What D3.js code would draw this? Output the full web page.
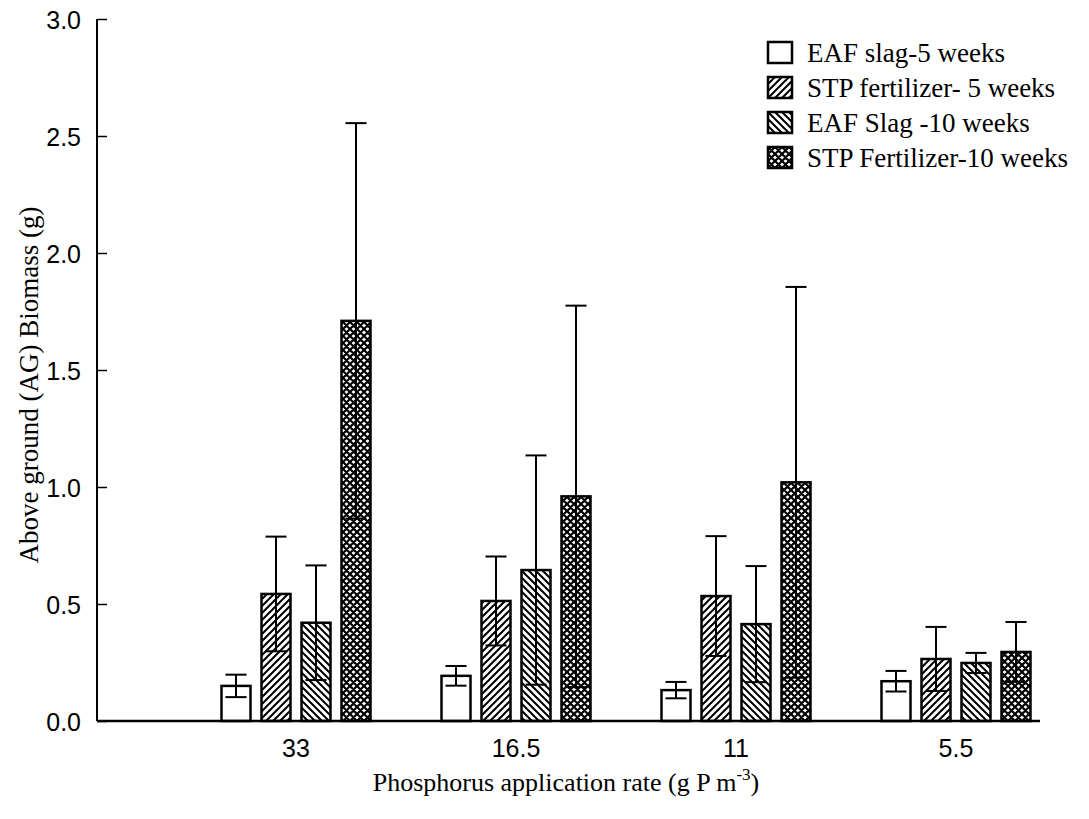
<!DOCTYPE html>
<html>
<head>
<meta charset="utf-8">
<script src="https://cdn.jsdelivr.net/npm/d3@7"></script>
<style>
  body { margin: 0; background: #fff; }
  svg { display: block; }
</style>
</head>
<body>
<div id="chart"></div>
<script>
/* Data
-----------------------------------------------------------------------------*/
const rates = ['33', '16.5', '11', '5.5'];
const series = [
  'EAF slag-5 weeks',
  'STP fertilizer- 5 weeks',
  'EAF Slag -10 weeks',
  'STP Fertilizer-10 weeks',
];
const eafSlag5 = [0.15, 0.193, 0.132, 0.17];
const stp5 = [0.543, 0.513, 0.534, 0.265];
const eafSlag10 = [0.42, 0.645, 0.414, 0.248];
const stp10 = [1.71, 0.96, 1.02, 0.295];
const eafSlag5Err = [0.048, 0.042, 0.035, 0.044];
const stp5Err = [0.245, 0.19, 0.256, 0.137];
const eafSlag10Err = [0.245, 0.49, 0.248, 0.043];
const stp10Err = [0.845, 0.815, 0.835, 0.128];
const yTicks = [0, 0.5, 1.0, 1.5, 2.0, 2.5, 3.0];

const means = [eafSlag5, stp5, eafSlag10, stp10];
const errs = [eafSlag5Err, stp5Err, eafSlag10Err, stp10Err];
const fills = ['#fff', 'url(#fwd)', 'url(#back)', 'url(#cross)'];

const chartWidth = 1089;
const chartHeight = 819;
const plotLeft = 97;
const plotTop = 19;
const plotBottom = 721;
const serif = "'Liberation Serif', 'Times New Roman', serif";
const sans = "'Liberation Sans', Arial, sans-serif";

const svg = d3
  .select('#chart')
  .append('svg')
  .attr('width', chartWidth)
  .attr('height', chartHeight)
  .attr('xmlns', 'http://www.w3.org/2000/svg');

/* Patterns
-----------------------------------------------------------------------------*/
const defs = svg.append('defs');

defs
  .append('pattern')
  .attr('id', 'fwd')
  .attr('patternUnits', 'userSpaceOnUse')
  .attr('width', 7)
  .attr('height', 7)
  .append('path')
  .attr('d', 'M-1,8 L8,-1 M-2,2 L2,-2 M5,9 L9,5')
  .attr('stroke', '#000')
  .attr('stroke-width', 2);

defs
  .append('pattern')
  .attr('id', 'back')
  .attr('patternUnits', 'userSpaceOnUse')
  .attr('width', 7)
  .attr('height', 7)
  .append('path')
  .attr('d', 'M-1,-1 L8,8 M-2,5 L2,9 M5,-2 L9,2')
  .attr('stroke', '#000')
  .attr('stroke-width', 2);

const cross = defs
  .append('pattern')
  .attr('id', 'cross')
  .attr('patternUnits', 'userSpaceOnUse')
  .attr('width', 7)
  .attr('height', 7);
cross.append('rect').attr('width', 7).attr('height', 7).attr('fill', '#fff');
cross
  .append('path')
  .attr(
    'd',
    'M-1,-1 L8,8 M-2,5 L2,9 M5,-2 L9,2 M-1,8 L8,-1 M-2,2 L2,-2 M5,9 L9,5'
  )
  .attr('stroke', '#000')
  .attr('stroke-width', 2.2);

/* Scales
-----------------------------------------------------------------------------*/
const x0 = d3.scaleBand().domain(rates).range([186, 1066]);
const x1 = d3
  .scaleBand()
  .domain(d3.range(series.length))
  .range([0, x0.bandwidth()])
  .paddingInner(0.275)
  .paddingOuter(0.8875);
const y = d3.scaleLinear().domain([0, 3]).range([plotBottom, plotTop]);

/* Axes
-----------------------------------------------------------------------------*/
const yAxis = svg
  .append('g')
  .attr('transform', `translate(${plotLeft},0)`)
  .call(
    d3
      .axisRight(y)
      .tickValues(yTicks)
      .tickSize(10)
      .tickFormat(d3.format('.1f'))
  );
yAxis.select('.domain').remove();
yAxis.selectAll('.tick line').attr('stroke', '#000').attr('stroke-width', 1.5);
yAxis
  .selectAll('.tick text')
  .attr('x', -16)
  .attr('dy', '0.36em')
  .attr('text-anchor', 'end')
  .attr('font-family', sans)
  .attr('font-size', 25)
  .attr('fill', '#000');

svg
  .append('line')
  .attr('x1', plotLeft)
  .attr('x2', plotLeft)
  .attr('y1', plotTop)
  .attr('y2', plotBottom)
  .attr('stroke', '#000')
  .attr('stroke-width', 2);

/* Bars
-----------------------------------------------------------------------------*/
series.forEach((name, s) => {
  const g = svg.append('g').attr('class', 'series');
  rates.forEach((rate, i) => {
    const bx = x0(rate) + x1(s);
    const bw = x1.bandwidth();
    const v = means[s][i];
    const e = errs[s][i];
    const cx = bx + bw / 2;

    g.append('rect')
      .attr('x', bx)
      .attr('y', y(v))
      .attr('width', bw)
      .attr('height', y(0) - y(v))
      .attr('fill', fills[s])
      .attr('stroke', '#000')
      .attr('stroke-width', 2.5);

    g.append('line')
      .attr('x1', cx)
      .attr('x2', cx)
      .attr('y1', y(v + e))
      .attr('y2', y(v - e))
      .attr('stroke', '#000')
      .attr('stroke-width', 2);

    [v + e, v - e].forEach((end) => {
      g.append('line')
        .attr('x1', cx - 10.5)
        .attr('x2', cx + 10.5)
        .attr('y1', y(end))
        .attr('y2', y(end))
        .attr('stroke', '#000')
        .attr('stroke-width', 2);
    });
  });
});

svg
  .append('line')
  .attr('x1', plotLeft)
  .attr('x2', 1040)
  .attr('y1', plotBottom)
  .attr('y2', plotBottom)
  .attr('stroke', '#000')
  .attr('stroke-width', 2.5);

/* X labels
-----------------------------------------------------------------------------*/
svg
  .append('g')
  .selectAll('text')
  .data(rates)
  .join('text')
  .attr('x', (d) => x0(d) + x0.bandwidth() / 2)
  .attr('y', 757)
  .attr('text-anchor', 'middle')
  .attr('font-family', sans)
  .attr('font-size', 25)
  .text((d) => d);

const xTitle = svg
  .append('text')
  .attr('x', 566)
  .attr('y', 791)
  .attr('text-anchor', 'middle')
  .attr('font-family', serif)
  .attr('font-size', 26);
xTitle.append('tspan').text('Phosphorus application rate (g P m');
xTitle.append('tspan').attr('font-size', 17).attr('dy', -11).text('-3');
xTitle.append('tspan').attr('dy', 11).text(')');

svg
  .append('text')
  .attr('transform', 'translate(38,385) rotate(-90)')
  .attr('text-anchor', 'middle')
  .attr('font-family', serif)
  .attr('font-size', 27)
  .text('Above ground (AG) Biomass (g)');

/* Legend
-----------------------------------------------------------------------------*/
const legend = svg
  .append('g')
  .selectAll('g')
  .data(series)
  .join('g')
  .attr('transform', (d, i) => `translate(768,${42 + i * 35})`);

legend
  .append('rect')
  .attr('width', 24)
  .attr('height', 21)
  .attr('fill', (d, i) => fills[i])
  .attr('stroke', '#000')
  .attr('stroke-width', 2.5);

legend
  .append('text')
  .attr('x', 39)
  .attr('y', 20)
  .attr('font-family', serif)
  .attr('font-size', 27)
  .text((d) => d);
</script>
</body>
</html>
